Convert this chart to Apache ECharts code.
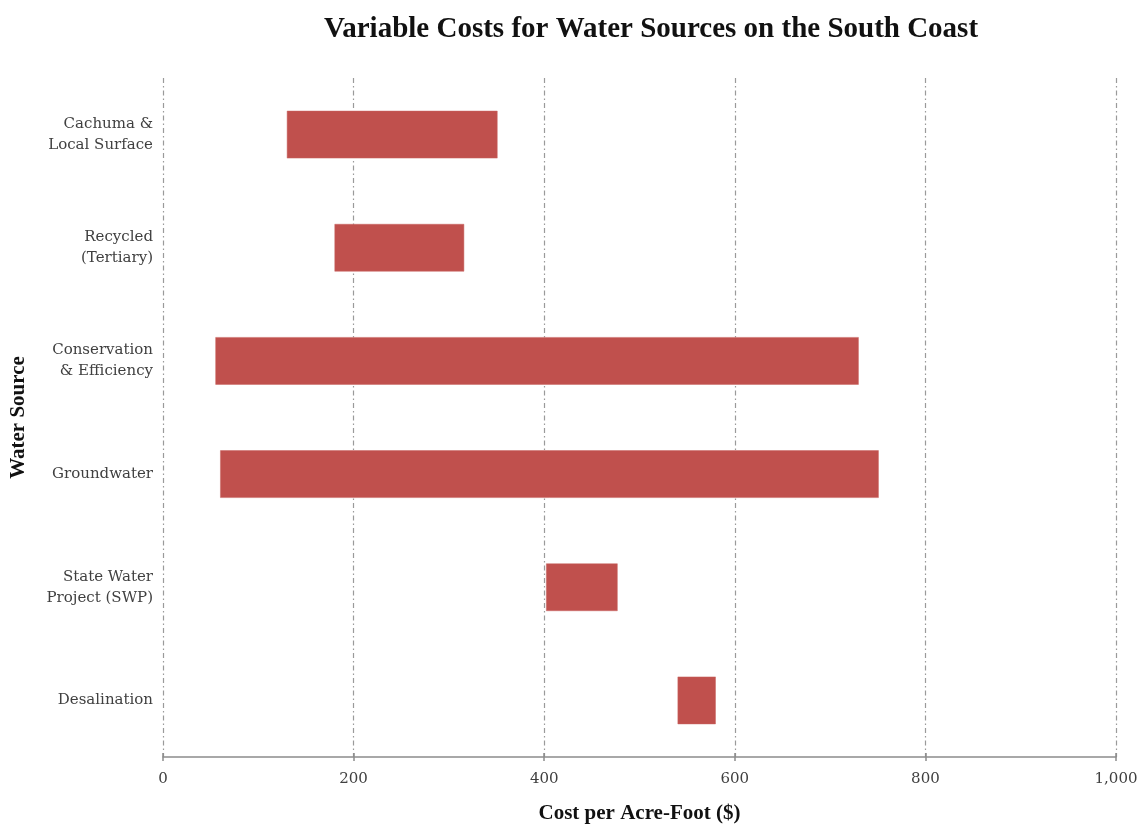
<!DOCTYPE html>
<html>
<head>
<meta charset="utf-8">
<script src="https://cdn.jsdelivr.net/npm/echarts@6/dist/echarts.min.js"></script>
<style>
  html, body { margin: 0; padding: 0; background: #fff; }
  #chart { width: 1140px; height: 824px; }
</style>
</head>
<body>
<div id="chart"></div>
<script>
// Water sources, top to bottom
const sources = [
  'Cachuma &\nLocal Surface',
  'Recycled\n(Tertiary)',
  'Conservation\n& Efficiency',
  'Groundwater',
  'State Water\nProject (SWP)',
  'Desalination'
];
// Low and high end of the variable cost range, $ per acre-foot
const lowCost  = [130, 180, 55, 60, 402, 540];
const highCost = [351, 316, 730, 751, 477, 580];
// Cost axis ticks
const costMin = 0;
const costMax = 1000;
const costStep = 200;

const labelFont = '"DejaVu Serif", "Liberation Serif", serif';
const headFont = '"Liberation Serif", "DejaVu Serif", serif';
const spanLength = highCost.map((h, i) => h - lowCost[i]);

const chart = echarts.init(document.getElementById('chart'), null, { renderer: 'canvas' });

chart.setOption({
  backgroundColor: '#ffffff',
  animation: false,
  title: {
    text: 'Variable Costs for Water Sources on the South Coast',
    left: 646,
    textAlign: 'center',
    top: 10,
    textStyle: { fontFamily: headFont, fontWeight: 'bold', fontSize: 29, color: '#111' }
  },
  grid: {
    left: 163, right: 24, top: 78, bottom: 67,
    containLabel: false,
    outerBoundsMode: 'none'
  },
  xAxis: [
    {
      type: 'value',
      min: costMin, max: costMax, interval: costStep,
      name: 'Cost per Acre-Foot ($)',
      nameLocation: 'middle',
      nameGap: 46,
      nameTextStyle: { fontFamily: headFont, fontWeight: 'bold', fontSize: 21, color: '#111' },
      axisLine: { show: true, lineStyle: { color: '#8c8c8c', width: 1.5 } },
      axisTick: { show: true, length: 4, lineStyle: { color: '#8c8c8c', width: 1.5 } },
      axisLabel: {
        fontFamily: labelFont, fontSize: 15, color: '#404040', margin: 15,
        formatter: v => v.toLocaleString('en-US')
      },
      splitLine: { show: true, lineStyle: { color: '#9a9a9a', width: 1.2, type: [5, 3, 1.5, 3] } }
    },
    {
      // inward half of the tick marks so they cross the axis line
      type: 'value',
      min: costMin, max: costMax, interval: costStep,
      position: 'bottom',
      axisLine: { show: false },
      axisTick: { show: true, inside: true, length: 4, lineStyle: { color: '#8c8c8c', width: 1.5 } },
      axisLabel: { show: false },
      splitLine: { show: false }
    }
  ],
  yAxis: {
    type: 'category',
    data: sources,
    inverse: true,
    name: 'Water Source',
    nameLocation: 'middle',
    nameGap: 134,
    nameRotate: 90,
    nameTextStyle: { fontFamily: headFont, fontWeight: 'bold', fontSize: 21, color: '#111' },
    axisLine: { show: false },
    axisTick: { show: false },
    axisLabel: {
      fontFamily: labelFont, fontSize: 15, color: '#404040', margin: 10,
      lineHeight: 21, align: 'right'
    },
    splitLine: { show: false }
  },
  series: [
    {
      name: 'Low',
      type: 'bar',
      stack: 'range',
      barWidth: '42%',
      itemStyle: { color: 'rgba(0,0,0,0)' },
      data: lowCost,
      silent: true
    },
    {
      name: 'Range',
      type: 'bar',
      stack: 'range',
      barWidth: '42%',
      itemStyle: { color: '#C0504D', borderColor: '#c86460', borderWidth: 0.5 },
      data: spanLength
    }
  ]
});
</script>
</body>
</html>
